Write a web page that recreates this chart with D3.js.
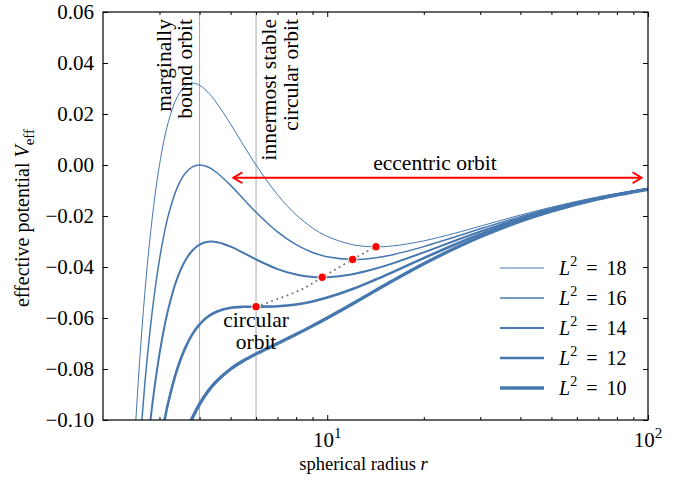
<!DOCTYPE html>
<html lang="en">
<head>
    <meta charset="UTF-8">
    <title>effective potential</title>
    <script src="https://d3js.org/d3.v7.min.js"></script>
    <style>
        body { margin: 0; background: #fff; }
        svg, svg text { font-family: "Liberation Serif", "Times New Roman", serif; }
        .tick line { stroke: #000; stroke-width: 1; }
        .note { font-size: 21.5px; }
        .ticklabel { font-size: 21px; }
        .label { font-size: 18.5px; }
        .ylabel { font-size: 20px; }
        .legend-text { font-size: 20px; }
    </style>
</head>
<body>
<div id="chart"></div>
<script>
    const radii = [2.4, 2.5, 2.6, 2.7, 2.8, 2.9, 3.0, 3.1, 3.2, 3.4, 3.6, 3.8, 4.0, 4.25, 4.5, 5, 5.5, 6,
        7, 8, 9, 10, 12, 14, 16, 20, 25, 30, 40, 50, 70, 100];

    const veffL18 = [-0.15625, -0.112, -0.07738, -0.05029, -0.02914, -0.01271, 0.0, 0.00974, 0.01710, 0.02646,
        0.03087, 0.03208, 0.03125, 0.02850, 0.02469, 0.016, 0.0075, 0.0, -0.01166, -0.01953,
        -0.02469, -0.028, -0.03125, -0.03207, -0.03174, -0.02975, -0.02675, -0.02399, -0.01965, -0.01654,
        -0.0125, -0.00912];
    const veffL16 = [-0.18518, -0.144, -0.11151, -0.08586, -0.06559, -0.04961, -0.03703, -0.02719, -0.01952, -0.00916,
        -0.00343, -0.00073, 0.0, -0.00081, -0.00275, -0.008, -0.01353, -0.01852, -0.02624, -0.03125,
        -0.03429, -0.036, -0.03704, -0.03644, -0.03516, -0.032, -0.02822, -0.02503, -0.02025, -0.01693,
        -0.0127, -0.00922];
    const veffL14 = [-0.21412, -0.176, -0.14565, -0.12142, -0.10203, -0.08652, -0.07407, -0.06411, -0.05615, -0.04478,
        -0.03772, -0.03353, -0.03125, -0.03012, -0.03018, -0.032, -0.03457, -0.03704, -0.04081, -0.04297,
        -0.0439, -0.044, -0.04281, -0.04081, -0.03857, -0.03425, -0.0297, -0.02607, -0.02084, -0.01731,
        -0.0129, -0.00931];
    const veffL12 = [-0.24305, -0.208, -0.17979, -0.15699, -0.13848, -0.12342, -0.11111, -0.10104, -0.09277, -0.0804,
        -0.07201, -0.06633, -0.0625, -0.05943, -0.05762, -0.056, -0.0556, -0.05556, -0.05539, -0.05469,
        -0.0535, -0.052, -0.04861, -0.04518, -0.04199, -0.0365, -0.03117, -0.02711, -0.02144, -0.0177,
        -0.0131, -0.00941];
    const veffL10 = [-0.27199, -0.24, -0.21393, -0.19255, -0.17492, -0.16032, -0.14815, -0.13796, -0.12939, -0.11602,
        -0.10631, -0.09914, -0.09375, -0.08874, -0.08505, -0.08, -0.07664, -0.07407, -0.06997, -0.06641,
        -0.0631, -0.06, -0.0544, -0.04956, -0.04541, -0.03875, -0.03264, -0.02815, -0.02203, -0.01808,
        -0.0133, -0.00951];

    const seriesNames = ["18", "16", "14", "12", "10"];
    const seriesValues = [veffL18, veffL16, veffL14, veffL12, veffL10];

    // circular orbits (L^2 = 12 ... 18) and the marked ones
    const circR = [6, 8.303, 9.646, 10.854, 12, 13.110, 14.196];
    const circV = [-0.05556, -0.04886, -0.04403, -0.04020, -0.03704, -0.03436, -0.03207];
    const dotR = [6, 9.646, 12, 14.196];
    const dotV = [-0.05556, -0.04403, -0.03704, -0.03207];

    const markerRadii = [4, 6];        // marginally bound, ISCO
    const arrowR = [5.1, 95.5];
    const arrowV = -0.005;

    const yTicks = [-0.10, -0.08, -0.06, -0.04, -0.02, 0.00, 0.02, 0.04, 0.06];
    const xMajor = [10, 100];
    const xMinor = [3, 4, 5, 6, 7, 8, 9, 20, 30, 40, 50, 60, 70, 80, 90];

    const width = 691, height = 483;
    const margin = {left: 103, right: 43, top: 12, bottom: 63};
    const blue = "#4677af";
    const widths = [1, 1.5, 2, 2.6, 3.3];

    const svg = d3.select("#chart").append("svg")
        .attr("width", width).attr("height", height);

    const x = d3.scaleLog().domain([2, 100]).range([margin.left, width - margin.right]);
    const y = d3.scaleLinear().domain([-0.10, 0.06]).range([height - margin.bottom, margin.top]);

    svg.append("defs").append("clipPath").attr("id", "clip")
        .append("rect")
        .attr("x", margin.left).attr("y", margin.top)
        .attr("width", x.range()[1] - margin.left)
        .attr("height", y.range()[0] - margin.top);

    // vertical reference lines
    svg.selectAll(".vline").data(markerRadii).enter().append("line")
        .attr("x1", d => x(d)).attr("x2", d => x(d))
        .attr("y1", y(0.06)).attr("y2", y(-0.10))
        .attr("stroke", "#aaa").attr("stroke-width", 1);

    const plot = svg.append("g").attr("clip-path", "url(#clip)");

    const line = d3.line()
        .x(d => x(d[0])).y(d => y(d[1]))
        .curve(d3.curveCatmullRom.alpha(0.5));

    seriesValues.forEach((vals, i) => {
        plot.append("path")
            .datum(radii.map((r, j) => [r, vals[j]]))
            .attr("d", line)
            .attr("fill", "none")
            .attr("stroke", blue)
            .attr("stroke-width", widths[i]);
    });

    // locus of circular orbits
    plot.append("path")
        .datum(circR.map((r, j) => [r, circV[j]]))
        .attr("d", line)
        .attr("fill", "none")
        .attr("stroke", "#777")
        .attr("stroke-width", 1.8)
        .attr("stroke-dasharray", "1.8,3.6");

    plot.selectAll(".dot").data(dotR).enter().append("circle")
        .attr("cx", d => x(d)).attr("cy", (d, i) => y(dotV[i]))
        .attr("r", 4.2)
        .attr("fill", "red").attr("stroke", "#fff").attr("stroke-width", 1);

    // eccentric orbit arrow
    const ay = y(arrowV);
    const ax0 = x(arrowR[0]), ax1 = x(arrowR[1]);
    svg.append("line")
        .attr("x1", ax0 + 1).attr("x2", ax1 - 1).attr("y1", ay).attr("y2", ay)
        .attr("stroke", "red").attr("stroke-width", 2);
    svg.append("path")
        .attr("d", `M${ax0 + 9},${ay - 5.5}L${ax0},${ay}L${ax0 + 9},${ay + 5.5}`)
        .attr("fill", "none").attr("stroke", "red").attr("stroke-width", 2);
    svg.append("path")
        .attr("d", `M${ax1 - 9},${ay - 5.5}L${ax1},${ay}L${ax1 - 9},${ay + 5.5}`)
        .attr("fill", "none").attr("stroke", "red").attr("stroke-width", 2);
    svg.append("text").attr("class", "note")
        .attr("x", 435).attr("y", ay - 8)
        .attr("text-anchor", "middle").text("eccentric orbit");

    // rotated notes
    function rotatedNote(lines, xs) {
        lines.forEach((t, i) => {
            svg.append("text").attr("class", "note")
                .attr("transform", `translate(${xs[i]},19) rotate(-90)`)
                .attr("text-anchor", "end").text(t);
        });
    }
    rotatedNote(["marginally", "bound orbit"], [x(4) - 29, x(4) - 7.5]);
    rotatedNote(["innermost stable", "circular orbit"], [x(6) + 20, x(6) + 41.5]);

    svg.append("text").attr("class", "note")
        .attr("x", x(6)).attr("y", 327).attr("text-anchor", "middle").text("circular");
    svg.append("text").attr("class", "note")
        .attr("x", x(6)).attr("y", 349).attr("text-anchor", "middle").text("orbit");

    // axes: tick marks from d3 axes (inward), labels drawn as plain text
    const yB = y.range()[0], yT = y.range()[1];
    const xL = x.range()[0], xR = x.range()[1];
    const noDomain = g => g.select(".domain").remove();

    svg.append("g").attr("transform", `translate(0,${yB})`)
        .call(d3.axisBottom(x).tickValues(xMinor).tickSize(-3).tickFormat("")).call(noDomain);
    svg.append("g").attr("transform", `translate(0,${yT})`)
        .call(d3.axisTop(x).tickValues(xMinor).tickSize(-3).tickFormat("")).call(noDomain);
    svg.append("g").attr("transform", `translate(0,${yT})`)
        .call(d3.axisTop(x).tickValues(xMajor).tickSize(-5).tickFormat("")).call(noDomain);
    svg.append("g").attr("transform", `translate(0,${yB})`)
        .call(d3.axisBottom(x).tickValues(xMajor).tickSize(-5).tickFormat("")).call(noDomain);
    svg.append("g").attr("transform", `translate(${xL},0)`)
        .call(d3.axisLeft(y).tickValues(yTicks).tickSize(-5).tickFormat("")).call(noDomain);
    svg.append("g").attr("transform", `translate(${xR},0)`)
        .call(d3.axisRight(y).tickValues(yTicks).tickSize(-5).tickFormat("")).call(noDomain);

    const fmt = v => d3.format(".2f")(v).replace("-", "\u2212");
    svg.selectAll(".ylab").data(yTicks).enter().append("text")
        .attr("class", "ticklabel")
        .attr("x", xL - 9).attr("y", d => y(d)).attr("dy", "0.34em")
        .attr("text-anchor", "end").text(fmt);

    svg.selectAll(".xlab").data(xMajor).enter().append("text")
        .attr("class", "ticklabel")
        .attr("x", d => x(d)).attr("y", yB + 27).attr("text-anchor", "middle")
        .each(function (d) {
            const t = d3.select(this);
            t.append("tspan").text("10");
            t.append("tspan").attr("dy", -9).style("font-size", "15px").text(Math.round(Math.log10(d)));
        });

    svg.append("rect")
        .attr("x", xL).attr("y", yT).attr("width", xR - xL).attr("height", yB - yT)
        .attr("fill", "none").attr("stroke", "#000").attr("stroke-width", 1.2);

    // axis labels
    const xl = svg.append("text").attr("class", "label")
        .attr("x", 363.5).attr("y", 470).attr("text-anchor", "middle");
    xl.append("tspan").text("spherical radius ");
    xl.append("tspan").style("font-style", "italic").text("r");

    const yl = svg.append("text").attr("class", "ylabel")
        .attr("transform", `translate(29,${(yT + yB) / 2 + 2}) rotate(-90)`)
        .attr("text-anchor", "middle");
    yl.append("tspan").text("effective potential ");
    yl.append("tspan").style("font-style", "italic").text("V");
    yl.append("tspan").attr("dy", 5).style("font-size", "15px").text("eff");

    // legend
    const legend = svg.append("g");
    seriesNames.forEach((name, i) => {
        const ly = 268 + i * 30;
        legend.append("line")
            .attr("x1", 500).attr("x2", 544).attr("y1", ly).attr("y2", ly)
            .attr("stroke", blue).attr("stroke-width", widths[i]);
        const t = legend.append("text").attr("class", "legend-text")
            .attr("x", 559).attr("y", ly + 7);
        t.append("tspan").style("font-style", "italic").text("L");
        t.append("tspan").attr("dy", -9).style("font-size", "14px").text("2");
        t.append("tspan").attr("dy", 9).attr("dx", 9).text("=");
        t.append("tspan").attr("dx", 9).text(name);
    });
</script>
</body>
</html>
